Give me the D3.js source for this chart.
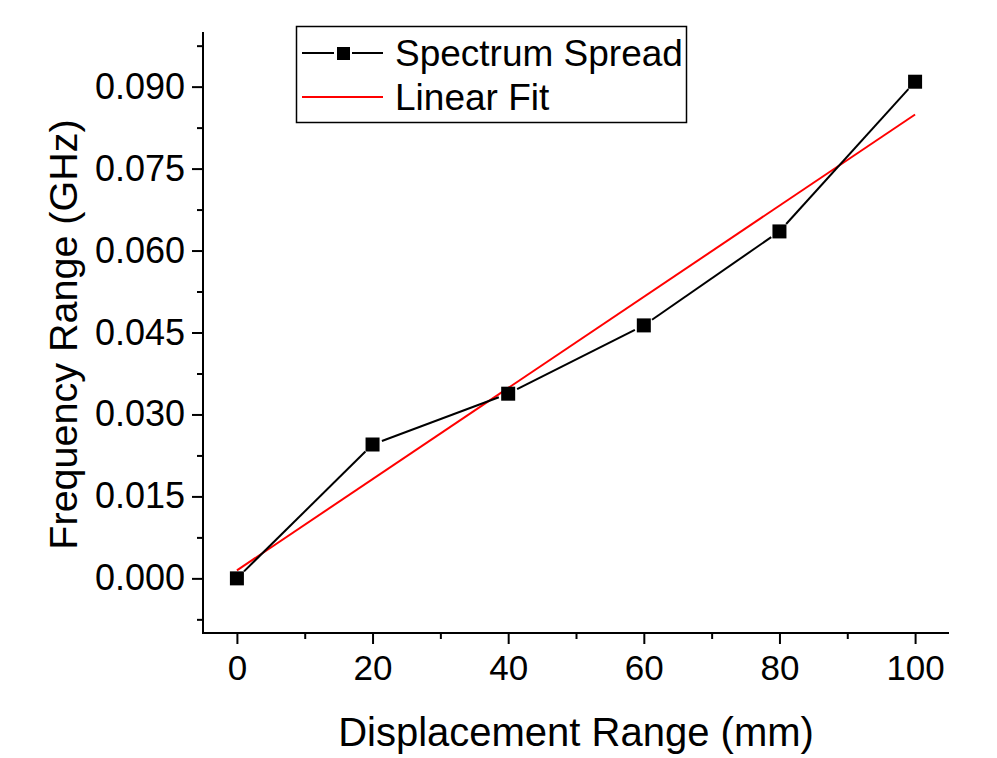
<!DOCTYPE html>
<html>
<head>
<meta charset="utf-8">
<script src="https://cdn.jsdelivr.net/npm/d3@7"></script>
<style>
  html, body { margin: 0; padding: 0; background: #fff; }
  svg { display: block; font-family: "Liberation Sans", Arial, sans-serif; }
</style>
</head>
<body>
<svg id="chart" width="997" height="758"></svg>
<script>
// ---- data ----
const displacement = [0, 20, 40, 60, 80, 100];
const spread = [0.0000, 0.0245, 0.0338, 0.0463, 0.0635, 0.0909];
const fitX = [0, 100];
const fitY = [0.00147, 0.0849];
const xTicks = [0, 20, 40, 60, 80, 100];
const xMinorTicks = [10, 30, 50, 70, 90];
const yTicks = [0.000, 0.015, 0.030, 0.045, 0.060, 0.075, 0.090];
const yMinorTicks = [-0.0075, 0.0075, 0.0225, 0.0375, 0.0525, 0.0675, 0.0825, 0.0975];
const seriesNames = ["Spectrum Spread", "Linear Fit"];
const xTitle = "Displacement Range (mm)";
const yTitle = "Frequency Range (GHz)";

// ---- layout ----
const L = 203, R = 949, T = 32, B = 633;
const FONT = "'Liberation Sans', Arial, sans-serif";
const svg = d3.select("#chart");
const x = d3.scaleLinear().domain([-5, 105]).range([L, R]);
const y = d3.scaleLinear().domain([-0.01, 0.1]).range([B, T]);

function styleAxis(g, size) {
  g.selectAll("path.domain").remove();
  g.selectAll("line").attr("stroke", "#000").attr("stroke-width", 2);
  g.selectAll("text").attr("font-size", size).attr("fill", "#000").attr("font-family", FONT);
}

svg.append("g").attr("transform", `translate(0,${B})`)
  .call(d3.axisBottom(x).tickValues(xMinorTicks).tickSize(6).tickFormat(""))
  .call(styleAxis, 35);
svg.append("g").attr("transform", `translate(0,${B})`)
  .call(d3.axisBottom(x).tickValues(xTicks).tickSize(11).tickPadding(11).tickFormat(d3.format("d")))
  .call(styleAxis, 35);
svg.append("g").attr("transform", `translate(${L},0)`)
  .call(d3.axisLeft(y).tickValues(yMinorTicks).tickSize(6).tickFormat(""))
  .call(styleAxis, 36);
svg.append("g").attr("transform", `translate(${L},0)`)
  .call(d3.axisLeft(y).tickValues(yTicks).tickSize(11).tickPadding(7).tickFormat(d3.format(".3f")))
  .call(styleAxis, 36);

// axis lines
svg.append("path").attr("d", `M${L},${T}V${B}H${R}`)
  .attr("fill", "none").attr("stroke", "#000").attr("stroke-width", 2);

// titles
svg.append("text").attr("x", (L + R) / 2 + 0).attr("y", 746)
  .attr("text-anchor", "middle").attr("font-size", 40).text(xTitle);
svg.append("text").attr("transform", `translate(77,${(T + B) / 2 + 2}) rotate(-90)`)
  .attr("text-anchor", "middle").attr("font-size", 39.5).text(yTitle);

// fit line
svg.append("line")
  .attr("x1", x(fitX[0])).attr("y1", y(fitY[0]))
  .attr("x2", x(fitX[1])).attr("y2", y(fitY[1]))
  .attr("stroke", "#ff0000").attr("stroke-width", 2);

// data line with gaps at markers
const gap = 10;
const pts = displacement.map((d, i) => [x(d), y(spread[i])]);
const segs = [];
for (let i = 0; i < pts.length - 1; i++) {
  const [x1, y1] = pts[i], [x2, y2] = pts[i + 1];
  const len = Math.hypot(x2 - x1, y2 - y1);
  const ux = (x2 - x1) / len, uy = (y2 - y1) / len;
  segs.push([x1 + ux * gap, y1 + uy * gap, x2 - ux * gap, y2 - uy * gap]);
}
svg.append("g").selectAll("line").data(segs).join("line")
  .attr("x1", d => d[0]).attr("y1", d => d[1])
  .attr("x2", d => d[2]).attr("y2", d => d[3])
  .attr("stroke", "#000").attr("stroke-width", 2);

const ms = 14;
svg.append("g").selectAll("rect").data(displacement).join("rect")
  .attr("x", (d) => x(d) - ms / 2)
  .attr("y", (d, i) => y(spread[i]) - ms / 2)
  .attr("width", ms).attr("height", ms).attr("fill", "#000");

// legend
const lg = svg.append("g");
lg.append("rect").attr("x", 296.5).attr("y", 26.5).attr("width", 390).attr("height", 96)
  .attr("fill", "#fff").attr("stroke", "#000").attr("stroke-width", 1.5);
lg.append("line").attr("x1", 302).attr("x2", 334).attr("y1", 53).attr("y2", 53)
  .attr("stroke", "#000").attr("stroke-width", 2);
lg.append("line").attr("x1", 352).attr("x2", 383).attr("y1", 53).attr("y2", 53)
  .attr("stroke", "#000").attr("stroke-width", 2);
lg.append("rect").attr("x", 337).attr("y", 47).attr("width", 13).attr("height", 13).attr("fill", "#000");
lg.append("line").attr("x1", 302).attr("x2", 383).attr("y1", 97).attr("y2", 97)
  .attr("stroke", "#ff0000").attr("stroke-width", 2);
lg.selectAll("text.lab").data(seriesNames).join("text").attr("class", "lab")
  .attr("x", 395).attr("y", (d, i) => 53 + i * 44 + 13)
  .attr("font-size", 37).text(d => d);
</script>
</body>
</html>
